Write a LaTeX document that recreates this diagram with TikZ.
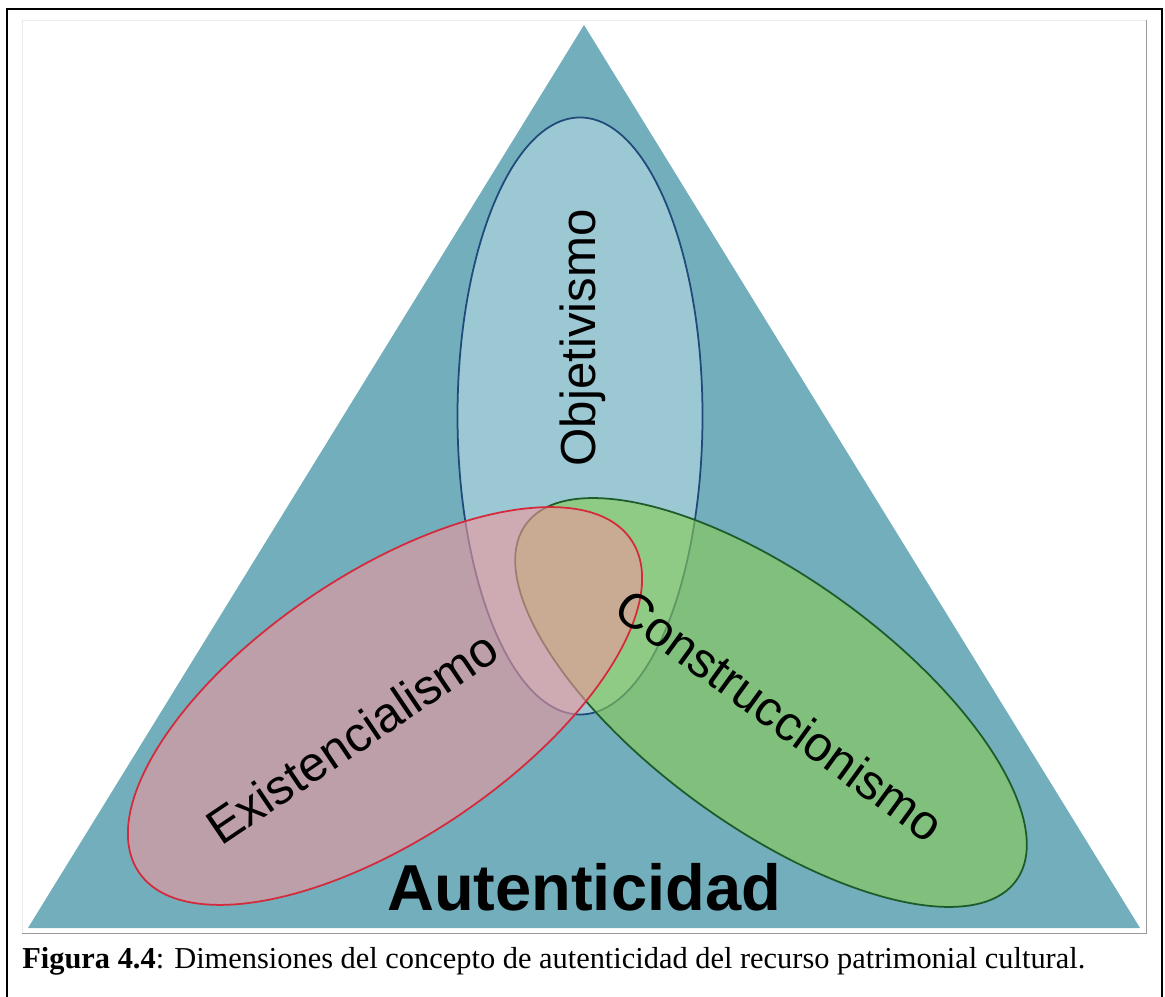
\documentclass[tikz,border=0pt]{standalone}
\usepackage{fontspec}
\setmainfont{Liberation Serif}
\newfontfamily\arialfont{Liberation Sans}
\usepackage{xcolor}
\usepackage{tikz}
\definecolor{tribg}{HTML}{72AEBB}
\definecolor{objbg}{HTML}{9BC8D2}
\definecolor{objline}{HTML}{1F4A7A}
\definecolor{exibg}{HTML}{F0969F}
\definecolor{exiline}{HTML}{D42A3C}
\definecolor{conbg}{HTML}{8ACD53}
\definecolor{conline}{HTML}{1E5B2B}
\definecolor{framegray}{HTML}{9A9A9A}

\begin{document}
\begin{tikzpicture}
  \useasboundingbox (0,0) rectangle (23.3,19.92);
  \draw[line width=1.2pt] (0.14,-0.2) -- (0.14,19.74) -- (23.24,19.74) -- (23.24,-0.2);
  \draw[draw=black!8] (0.44,1.26) rectangle (22.92,19.52);
  \draw[draw=framegray] (0.44,1.26) -- (22.92,1.26) -- (22.92,19.52);
  \fill[tribg] (11.68,19.42) -- (0.56,1.36) -- (22.8,1.36) -- cycle;
  \draw[fill=objbg, draw=objline, line width=1pt] (11.6,11.6) ellipse [x radius=2.45, y radius=5.97];
  \draw[fill=conbg, fill opacity=0.6, draw=conline, line width=1pt, rotate around={-36:(15.42,5.87)}] (15.42,5.87) ellipse [x radius=6.06, y radius=2.48];
  \draw[fill=exibg, fill opacity=0.6, draw=exiline, line width=1pt, rotate around={34:(7.7,5.8)}] (7.7,5.8) ellipse [x radius=5.94, y radius=2.64];
  \node[rotate=90] (obj) at (11.66,13.16) {\arialfont\fontsize{28}{30}\selectfont Objetivismo};
  \node[rotate=34] (exi) at (7.04,5.18) {\arialfont\fontsize{28}{30}\selectfont Existencialismo};
  \node[rotate=-36] (con) at (15.6,5.62) {\arialfont\fontsize{28}{30}\selectfont Construccionismo};
  \node (aut) at (11.68,2.18) {\arialfont\bfseries\fontsize{37}{40}\selectfont Autenticidad};
  \node[anchor=west, inner sep=0pt] (cap) at (0.44,0.7) {\fontsize{17.3}{19}\selectfont\textbf{Figura 4.4}: Dimensiones del concepto de autenticidad del recurso patrimonial cultural.};
\end{tikzpicture}
\end{document}
